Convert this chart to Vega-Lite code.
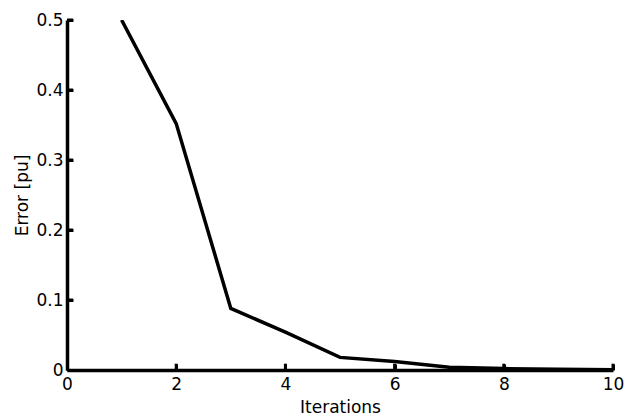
{
  "$schema": "https://vega.github.io/schema/vega-lite/v6.json",
  "autosize": "none",
  "padding": {"left": 67, "top": 20, "right": 12, "bottom": 45},
  "width": 546,
  "height": 350,
  "background": "white",
  "config": {"view": {"stroke": null}, "font": "DejaVu Sans",
    "axis": {"domainColor": "black", "domainWidth": 3.5, "tickColor": "black", "tickWidth": 3, "tickSize": -6, "ticks": true, "domain": true}},
  "layer": [
    {
      "data": {"values": [
        {"it": 1, "err": 0.5},
        {"it": 2, "err": 0.352},
        {"it": 3, "err": 0.088},
        {"it": 4, "err": 0.054},
        {"it": 5, "err": 0.018},
        {"it": 6, "err": 0.012},
        {"it": 7, "err": 0.004},
        {"it": 8, "err": 0.002},
        {"it": 9, "err": 0.001},
        {"it": 10, "err": 0.0005}
      ]},
      "mark": {"type": "line", "color": "black", "strokeWidth": 3.5, "clip": true},
      "encoding": {
        "x": {"field": "it", "type": "quantitative", "scale": {"domain": [0, 10], "nice": false},
          "axis": {"title": "Iterations", "values": [0, 2, 4, 6, 8, 10], "grid": false,
            "labelPadding": 12, "labelFontSize": 17, "labelColor": "black", "labelFlush": false,
            "titleFontSize": 17, "titleFontWeight": "normal", "titleColor": "black", "titlePadding": 7}},
        "y": {"field": "err", "type": "quantitative", "scale": {"domain": [0, 0.5], "nice": false},
          "axis": {"title": "Error [pu]", "values": [0, 0.1, 0.2, 0.3, 0.4, 0.5], "format": "~g", "grid": false,
            "labelPadding": 10, "labelFontSize": 17, "labelColor": "black", "labelFlush": false,
            "titleFontSize": 17, "titleFontWeight": "normal", "titleColor": "black", "titlePadding": 4}}
      }
    },
    {
      "mark": {"type": "rule", "color": "black", "strokeWidth": 3.5, "strokeCap": "square"},
      "encoding": {
        "x": {"datum": 0, "type": "quantitative"},
        "y": {"datum": 0, "type": "quantitative"},
        "y2": {"datum": 0.5}
      }
    },
    {
      "mark": {"type": "rule", "color": "black", "strokeWidth": 3.5, "strokeCap": "square"},
      "encoding": {
        "x": {"datum": 0, "type": "quantitative"},
        "x2": {"datum": 10},
        "y": {"datum": 0, "type": "quantitative"}
      }
    },
    {
      "data": {"values": [{"t": 2}, {"t": 4}, {"t": 6}, {"t": 8}, {"t": 10}]},
      "mark": {"type": "rule", "color": "black", "strokeWidth": 3},
      "encoding": {
        "x": {"field": "t", "type": "quantitative", "title": "Iterations"},
        "y": {"datum": 0, "type": "quantitative"},
        "y2": {"datum": 0.009}
      }
    },
    {
      "data": {"values": [{"v": 0.1}, {"v": 0.2}, {"v": 0.3}, {"v": 0.4}, {"v": 0.5}]},
      "mark": {"type": "rule", "color": "black", "strokeWidth": 3},
      "encoding": {
        "y": {"field": "v", "type": "quantitative", "title": "Error [pu]"},
        "x": {"datum": 0, "type": "quantitative"},
        "x2": {"datum": 0.11}
      }
    }
  ]
}
